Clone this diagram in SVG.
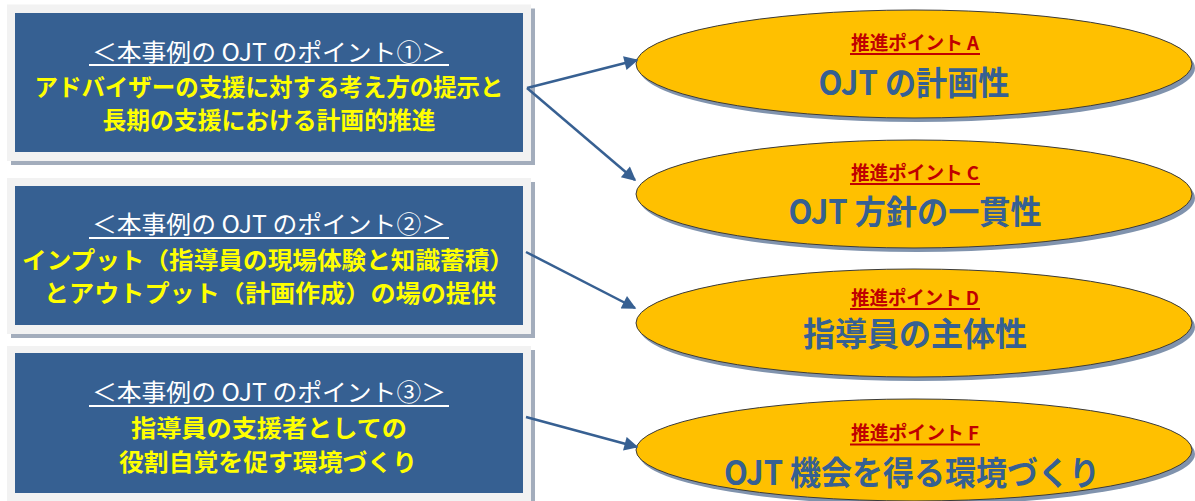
<svg xmlns="http://www.w3.org/2000/svg" width="1195" height="501" viewBox="0 0 1195 501">
<defs>
<style>
.frame{fill:#F2F2F2}
.fshadow{fill:#A3ADBC}
.box{fill:#366092}
.title{font-family:"Noto Sans CJK JP","Noto Sans",sans-serif;font-size:24px;fill:#FFFFFF;text-anchor:middle}
.uline{stroke:#FFFFFF;stroke-width:2}
.ytxt{font-family:"Noto Sans CJK JP","Noto Sans",sans-serif;font-size:23.5px;font-weight:bold;fill:#FFFF00;text-anchor:middle}
.ell{fill:#FFC000;stroke:#3A3A3A;stroke-width:1}
.eshadow{fill:#8093AD}
.sub{font-family:"Noto Sans CJK JP","Noto Sans",sans-serif;font-size:19px;font-weight:bold;fill:#C00000;text-anchor:middle}
.rline{stroke:#C00000;stroke-width:2}
.main{font-family:"Noto Sans CJK JP","Noto Sans",sans-serif;font-size:33px;font-weight:bold;fill:#366092;text-anchor:middle}
.conn{stroke:#376092;stroke-width:2.5;fill:none;marker-end:url(#arr)}
</style>
<marker id="arr" viewBox="0 0 10 10" refX="9" refY="5" markerUnits="userSpaceOnUse" markerWidth="17" markerHeight="14" orient="auto">
<path d="M0,0 L10,5 L0,10 z" fill="#376092"/>
</marker>
</defs>
<rect width="1195" height="501" fill="#FFFFFF"/>

<g id="box1">
<rect class="fshadow" x="11" y="8.5" width="524" height="156.5"/>
<rect class="frame" x="7" y="4.5" width="524" height="156.5"/>
<rect class="box" x="15" y="13" width="508" height="139"/>
<text class="title" x="269" y="61" textLength="354" lengthAdjust="spacingAndGlyphs">＜本事例の OJT のポイント①＞</text>
<line class="uline" x1="89" y1="65" x2="449" y2="65"/>
<text class="ytxt" x="269" y="96" textLength="469" lengthAdjust="spacingAndGlyphs">アドバイザーの支援に対する考え方の提示と</text>
<text class="ytxt" x="269" y="129" textLength="333" lengthAdjust="spacingAndGlyphs">長期の支援における計画的推進</text>
</g>

<g id="box2">
<rect class="fshadow" x="11" y="182" width="524" height="156"/>
<rect class="frame" x="7" y="178" width="524" height="156"/>
<rect class="box" x="15" y="186" width="508" height="139"/>
<text class="title" x="269" y="233" textLength="354" lengthAdjust="spacingAndGlyphs">＜本事例の OJT のポイント②＞</text>
<line class="uline" x1="89" y1="238" x2="449" y2="238"/>
<text class="ytxt" x="268" y="269" textLength="492" lengthAdjust="spacingAndGlyphs">インプット（指導員の現場体験と知識蓄積）</text>
<text class="ytxt" x="270" y="302" textLength="452" lengthAdjust="spacingAndGlyphs">とアウトプット（計画作成）の場の提供</text>
</g>

<g id="box3">
<rect class="fshadow" x="11" y="350" width="524" height="160"/>
<rect class="frame" x="7" y="346" width="524" height="160"/>
<rect class="box" x="15" y="353" width="508" height="140"/>
<text class="title" x="269" y="401" textLength="354" lengthAdjust="spacingAndGlyphs">＜本事例の OJT のポイント③＞</text>
<line class="uline" x1="89" y1="406" x2="449" y2="406"/>
<text class="ytxt" x="269" y="437" textLength="276" lengthAdjust="spacingAndGlyphs">指導員の支援者としての</text>
<text class="ytxt" x="268" y="471" textLength="298" lengthAdjust="spacingAndGlyphs">役割自覚を促す環境づくり</text>
</g>

<g id="pointA">
<ellipse class="eshadow" cx="917" cy="68" rx="278" ry="54"/>
<ellipse class="ell" cx="914" cy="64" rx="278" ry="54"/>
<text class="sub" x="915" y="50" textLength="128" lengthAdjust="spacingAndGlyphs">推進ポイント A</text>
<line class="rline" x1="850" y1="54" x2="980" y2="54"/>
<text class="main" x="914" y="95" textLength="191" lengthAdjust="spacingAndGlyphs">OJT の計画性</text>
</g>

<g id="pointC">
<ellipse class="eshadow" cx="917" cy="198" rx="278" ry="54"/>
<ellipse class="ell" cx="914" cy="194" rx="278" ry="54"/>
<text class="sub" x="915" y="180" textLength="128" lengthAdjust="spacingAndGlyphs">推進ポイント C</text>
<line class="rline" x1="850" y1="184" x2="980" y2="184"/>
<text class="main" x="915" y="224" textLength="253" lengthAdjust="spacingAndGlyphs">OJT 方針の一貫性</text>
</g>

<g id="pointD">
<ellipse class="eshadow" cx="917" cy="327" rx="278" ry="54"/>
<ellipse class="ell" cx="914" cy="323" rx="278" ry="54"/>
<text class="sub" x="915" y="305" textLength="128" lengthAdjust="spacingAndGlyphs">推進ポイント D</text>
<line class="rline" x1="850" y1="309" x2="980" y2="309"/>
<text class="main" x="915" y="346" textLength="224" lengthAdjust="spacingAndGlyphs">指導員の主体性</text>
</g>

<g id="pointF">
<ellipse class="eshadow" cx="917" cy="454" rx="278" ry="51"/>
<ellipse class="ell" cx="914" cy="450" rx="278" ry="51"/>
<text class="sub" x="915" y="440" textLength="128" lengthAdjust="spacingAndGlyphs">推進ポイント F</text>
<line class="rline" x1="850" y1="444.5" x2="980" y2="444.5"/>
<text class="main" x="912" y="485" textLength="376" lengthAdjust="spacingAndGlyphs">OJT 機会を得る環境づくり</text>
</g>

<g id="connectors">
<line class="conn" x1="527" y1="88" x2="637" y2="60"/>
<line class="conn" x1="527" y1="88" x2="635" y2="180"/>
<line class="conn" x1="526" y1="252" x2="635" y2="308"/>
<line class="conn" x1="526" y1="417" x2="637" y2="447"/>
</g>
</svg>
